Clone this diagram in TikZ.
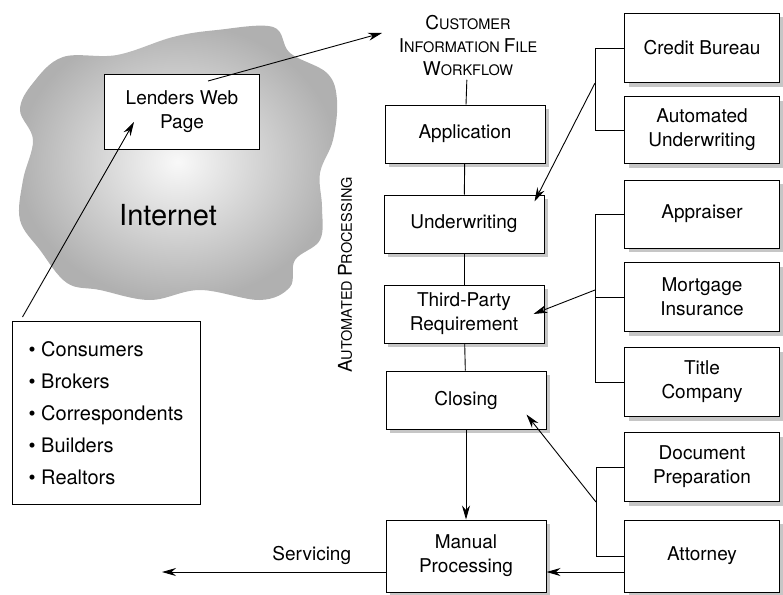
\documentclass[tikz,border=0pt]{standalone}
\usepackage{fontspec}
\setmainfont{TeX Gyre Heros}
\usetikzlibrary{arrows.meta,shadows}

\newcommand{\capl}[1]{{\fontsize{19}{23}\selectfont #1}}

\tikzstyle{plainbox}=[draw,line width=1pt,fill=white,align=center,font=\fontsize{19}{24}\selectfont]
\tikzstyle{stage}=[plainbox,minimum width=160pt,minimum height=58pt,general shadow={fill=gray!45,shadow xshift=4pt,shadow yshift=-4pt}]
\tikzstyle{party}=[stage,minimum width=155pt,minimum height=69pt]
\tikzstyle{link}=[draw,line width=0.9pt]
\tikzstyle{flow}=[link,-{Stealth[length=14pt,width=8pt]}]

\begin{document}
\begin{tikzpicture}[x=1pt,y=-1pt]
	\useasboundingbox (0,0) rectangle (783,594);
	% the internet cloud
	\shade[inner color=gray!5,outer color=gray!62] plot[smooth cycle,tension=0.6] coordinates {
		(63,57) (117,55) (173,37) (217,30) (273,27) (290,53) (327,73) (337,100)
		(333,140) (320,173) (322,207) (320,240) (295,260) (290,287) (260,300)
		(200,290) (150,300) (100,290) (67,283) (40,250) (20,220) (23,180)
		(33,140) (20,110) (33,83)};
	\node[font=\fontsize{29}{30}\selectfont] (internet) at (168,215) {Internet};
	\node[plainbox,minimum width=155pt,minimum height=75pt] (lenders) at (182,112) {Lenders Web\\Page};
	\node[plainbox,minimum width=188pt,minimum height=183pt,align=left,font=\fontsize{20}{32}\selectfont] (users) at (106,413)
		{\textbullet\ Consumers\\\textbullet\ Brokers\\\textbullet\ Correspondents\\\textbullet\ Builders\\\textbullet\ Realtors};

	% workflow column
	\node[align=center,font=\fontsize{14.5}{23}\selectfont] (cif) at (468,46)
		{\capl{C}USTOMER\\\capl{I}NFORMATION \capl{F}ILE\\\capl{W}ORKFLOW};
	\node[font=\fontsize{14.5}{18}\selectfont,rotate=90] (auto) at (345,275) {\capl{A}UTOMATED \capl{P}ROCESSING};
	\node[stage] (app) at (465,134) {Application};
	\node[stage] (uw) at (464,224) {Underwriting};
	\node[stage] (tp) at (464,314) {Third-Party\\Requirement};
	\node[stage] (cl) at (466,400) {Closing};
	\node[stage,minimum height=72pt] (mp) at (466,556) {Manual\\Processing};

	% third parties
	\node[party] (cb) at (702,48) {Credit Bureau};
	\node[party,minimum height=67pt] (au) at (702,130) {Automated\\Underwriting};
	\node[party,minimum height=68pt] (ap) at (702,214) {Appraiser};
	\node[party] (mi) at (702,297) {Mortgage\\Insurance};
	\node[party] (tc) at (702,382) {Title\\Company};
	\node[party] (dp) at (702,467) {Document\\Preparation};
	\node[party,minimum height=72pt] (at) at (702,556) {Attorney};

	\coordinate (cifin) at (382,33);
	\coordinate (serv) at (162,572);

	% connect the workflow
	\foreach \source/\dest in {cif/app, app/uw, uw/tp, tp/cl}
		\path[link] (\source) -- (\dest);
	\path[flow] (cl) -- (mp);
	\path[flow] ([xshift=-52pt,yshift=-7pt]lenders.north east) -- (cifin);
	\path[flow] ([xshift=11pt,yshift=4pt]users.north west) -- ([xshift=30pt,yshift=-48pt]lenders.north west);
	\path[flow] ([yshift=-16pt]mp.west) -- (serv) node[pos=0.33,above=4pt,font=\fontsize{19}{24}\selectfont] {Servicing};
	\path[flow,{Stealth[length=14pt,width=8pt]}-] ([yshift=-16pt]mp.east) -- ([yshift=-16pt]at.west);

	% brackets to the third parties
	\path[link] (cb.west) -- ++(-29,0) coordinate (b1) |- (au.west);
	\path[link] (ap.west) -- ++(-29,0) coordinate (b2) |- (tc.west);
	\path[link] (mi.west) -- ++(-29,0);
	\path[link] (dp.west) -- ++(-28,0) coordinate (b3) |- (at.west);
	\path[flow] ([yshift=-35pt]b1) -- ([xshift=-10pt,yshift=-7pt]uw.north east);
	\path[flow] ([yshift=-76pt]b2) -- ([xshift=-11pt]tp.east);
	\path[flow] ([yshift=-35pt]b3) -- ([xshift=-20pt,yshift=15pt]cl.south east);
\end{tikzpicture}
\end{document}
